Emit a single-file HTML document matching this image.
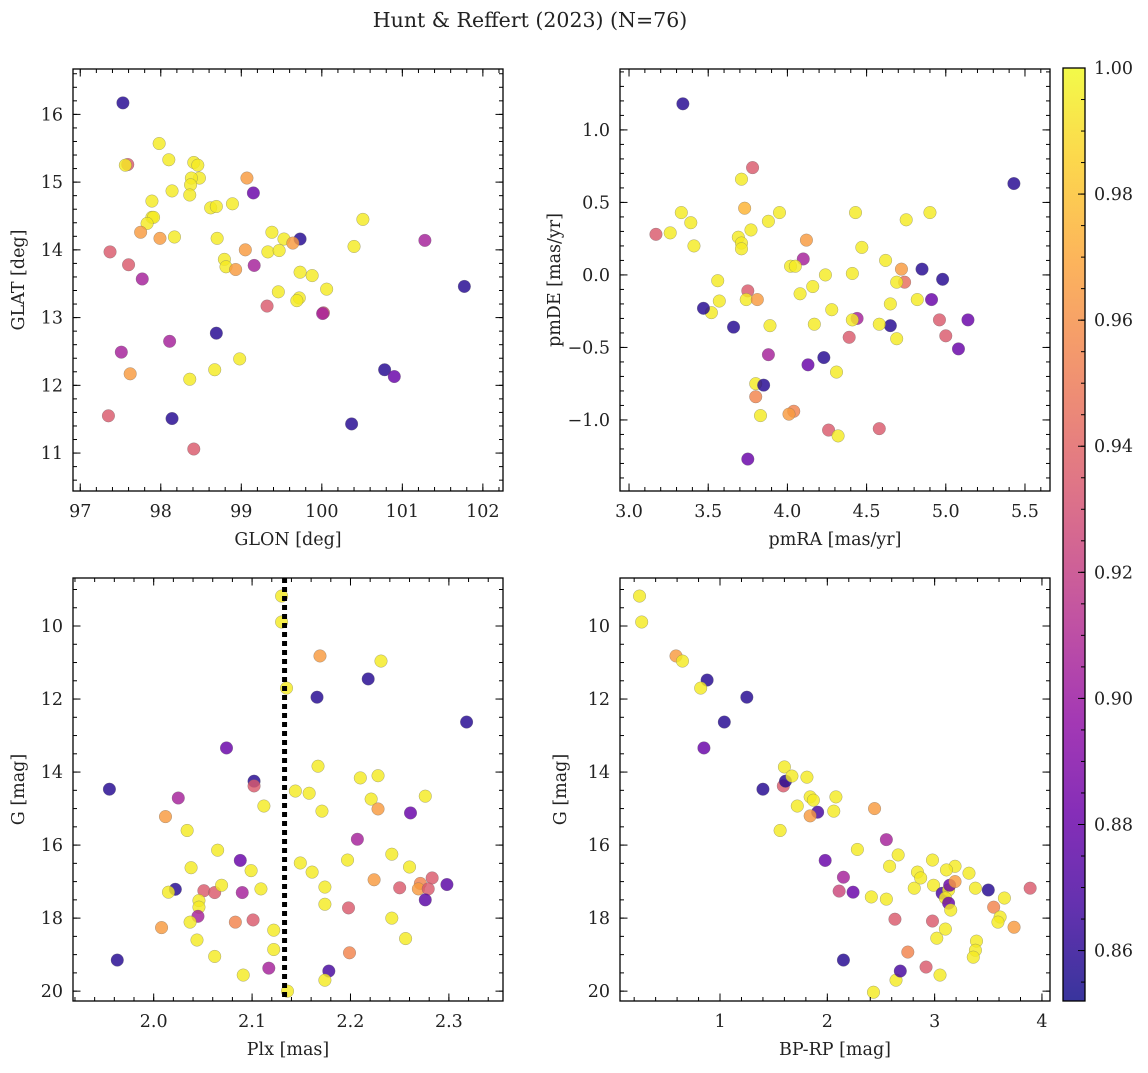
<!DOCTYPE html>
<html><head><meta charset="utf-8"><style>
html,body{margin:0;padding:0;background:#fff}
svg text{font-family:"DejaVu Serif","Liberation Serif",serif;fill:#222}
</style></head><body>
<svg id="fig" width="1148" height="1068" viewBox="0 0 1148 1068" xmlns="http://www.w3.org/2000/svg">
<text x="530" y="27" text-anchor="middle" font-size="20.5">Hunt &amp; Reffert (2023) (N=76)</text>
</svg>
<script>
// ---- data ----
const tlGlon=[97.53,97.98,97.59,97.56,98.10,98.41,98.46,98.48,98.38,98.37,98.36,98.14,97.89,97.89,97.91,97.83,97.75,97.99,98.17,98.62,98.69,98.89,99.07,99.15,98.70,99.38,99.53,99.73,99.64,99.33,99.47,99.05,97.37,97.60,97.77,98.79,98.81,98.93,99.16,99.73,99.88,100.06,99.46,99.72,99.69,99.32,100.02,100.01,100.40,100.51,101.28,101.77,98.69,98.11,97.51,97.62,98.67,98.98,98.36,100.78,100.90,97.35,98.14,100.37,98.41];
const tlGlat=[16.17,15.57,15.26,15.25,15.33,15.29,15.25,15.06,15.06,14.96,14.81,14.87,14.72,14.48,14.48,14.39,14.26,14.17,14.19,14.62,14.64,14.68,15.06,14.84,14.17,14.26,14.16,14.16,14.10,13.97,13.99,14.00,13.97,13.78,13.57,13.86,13.75,13.71,13.77,13.67,13.62,13.42,13.38,13.29,13.25,13.17,13.07,13.06,14.05,14.45,14.14,13.46,12.77,12.65,12.49,12.17,12.23,12.39,12.09,12.23,12.13,11.55,11.51,11.43,11.06];
const tlProb=[0.858,0.995,0.935,0.995,0.995,0.995,0.995,0.995,0.995,0.995,0.995,0.995,0.995,0.995,0.995,0.995,0.965,0.965,0.995,0.995,0.995,0.995,0.965,0.88,0.995,0.995,0.995,0.858,0.965,0.995,0.995,0.965,0.935,0.935,0.905,0.995,0.995,0.965,0.905,0.995,0.995,0.995,0.995,0.995,0.995,0.935,0.935,0.905,0.995,0.995,0.905,0.858,0.858,0.905,0.905,0.965,0.995,0.995,0.995,0.858,0.88,0.935,0.858,0.858,0.935];

const trPmra=[3.34,5.43,3.78,3.71,3.33,3.39,3.17,3.26,3.41,3.69,3.71,3.73,3.77,3.95,3.88,3.71,4.12,4.43,4.47,4.90,4.75,4.10,4.02,4.05,4.08,3.56,3.57,3.52,3.47,3.66,3.75,3.74,3.81,4.16,4.24,4.41,4.62,4.72,4.74,4.69,4.85,4.98,4.65,4.82,4.91,4.96,5.00,5.14,5.08,4.65,4.58,4.69,4.44,4.41,4.28,4.17,4.39,3.89,4.13,4.23,4.31,3.88,3.80,3.85,3.80,3.83,4.04,4.01,4.26,4.32,4.58,3.75];
const trPmde=[1.18,0.63,0.74,0.66,0.43,0.36,0.28,0.29,0.20,0.26,0.22,0.46,0.31,0.43,0.37,0.18,0.24,0.43,0.19,0.43,0.38,0.11,0.06,0.06,-0.13,-0.04,-0.18,-0.26,-0.23,-0.36,-0.11,-0.17,-0.17,-0.08,0.00,0.01,0.10,0.04,-0.05,-0.05,0.04,-0.03,-0.20,-0.17,-0.17,-0.31,-0.42,-0.31,-0.51,-0.35,-0.34,-0.44,-0.30,-0.31,-0.24,-0.34,-0.43,-0.35,-0.62,-0.57,-0.67,-0.55,-0.75,-0.76,-0.84,-0.97,-0.94,-0.96,-1.07,-1.11,-1.06,-1.27];
const trProb=[0.858,0.858,0.935,0.995,0.995,0.995,0.935,0.995,0.995,0.995,0.995,0.975,0.995,0.995,0.995,0.995,0.965,0.995,0.995,0.995,0.995,0.905,0.995,0.995,0.995,0.995,0.995,0.995,0.858,0.858,0.935,0.995,0.965,0.995,0.995,0.995,0.995,0.965,0.945,0.995,0.858,0.858,0.995,0.995,0.88,0.935,0.935,0.88,0.88,0.858,0.995,0.995,0.905,0.995,0.995,0.995,0.935,0.995,0.88,0.858,0.995,0.905,0.995,0.858,0.955,0.995,0.955,0.965,0.935,0.995,0.935,0.88];

const blPlx=[2.130,2.130,2.169,2.231,2.135,2.166,2.218,2.318,2.074,1.955,2.025,2.102,2.102,2.112,2.144,2.158,2.167,2.210,2.228,2.221,2.228,2.276,2.171,2.034,2.207,2.012,2.065,2.149,2.161,2.174,2.174,2.197,2.224,2.242,2.260,2.298,2.283,2.261,2.038,2.022,2.015,2.051,2.062,2.069,2.088,2.109,2.046,2.046,2.090,2.045,2.037,2.101,2.083,2.099,2.271,2.269,2.279,2.276,2.250,2.122,2.122,2.256,2.242,2.198,2.044,2.091,2.117,2.199,1.963,2.136,2.178,2.174,2.008,2.062];
const blG=[9.18,9.89,10.82,10.96,11.70,11.95,11.45,12.63,13.34,14.47,14.71,14.25,14.38,14.93,14.52,14.58,13.84,14.16,14.10,14.74,15.01,14.66,15.07,15.60,15.84,15.22,16.14,16.49,16.74,17.15,17.62,16.41,16.95,16.25,16.60,17.08,16.90,15.12,16.62,17.21,17.29,17.25,17.30,17.10,16.42,17.20,17.52,17.70,17.30,17.95,18.11,18.05,18.11,16.70,17.05,17.20,17.20,17.50,17.17,18.33,18.86,18.56,18.00,17.72,18.60,19.56,19.37,18.95,19.15,20.00,19.45,19.70,18.26,19.05];
const blProb=[0.995,0.995,0.965,0.995,0.995,0.858,0.858,0.858,0.88,0.858,0.905,0.858,0.935,0.995,0.995,0.995,0.995,0.995,0.995,0.995,0.965,0.995,0.995,0.995,0.905,0.965,0.995,0.995,0.995,0.995,0.995,0.995,0.965,0.995,0.995,0.875,0.935,0.88,0.995,0.858,0.995,0.935,0.935,0.995,0.88,0.995,0.995,0.995,0.905,0.905,0.995,0.935,0.955,0.995,0.955,0.965,0.935,0.875,0.935,0.995,0.995,0.995,0.995,0.935,0.995,0.995,0.905,0.955,0.858,0.995,0.868,0.995,0.965,0.995];

const brBprp=[0.25,0.27,0.59,0.65,0.88,0.82,1.25,1.04,0.85,1.40,1.59,1.61,1.60,1.67,1.81,1.72,1.84,1.87,1.91,1.84,2.06,2.08,2.44,1.56,2.55,1.98,2.28,2.58,2.66,2.15,2.11,2.24,2.41,2.55,2.63,2.81,2.84,2.98,2.87,2.99,3.07,3.13,3.19,3.11,3.32,3.38,3.50,3.14,3.19,2.98,3.02,3.10,3.10,3.13,3.15,3.55,3.65,3.61,3.59,3.89,3.74,3.39,3.38,3.36,2.75,2.43,2.64,3.05,2.92,2.68,2.15];
const brG=[9.18,9.89,10.82,10.96,11.48,11.70,11.95,12.63,13.34,14.47,14.38,14.25,13.86,14.11,14.14,14.93,14.68,14.77,15.10,15.20,15.07,14.68,15.00,15.60,15.85,16.42,16.12,16.58,16.27,16.88,17.26,17.29,17.42,17.48,18.03,17.18,16.74,16.41,16.90,17.10,17.32,17.23,16.58,16.68,16.77,17.18,17.23,17.10,17.00,18.08,18.55,18.30,17.45,17.59,17.78,17.70,17.45,17.97,18.11,17.18,18.25,18.63,18.88,19.07,18.93,20.03,19.70,19.56,19.34,19.45,19.15];
const brProb=[0.995,0.995,0.965,0.995,0.858,0.995,0.858,0.858,0.88,0.858,0.935,0.858,0.995,0.995,0.995,0.995,0.995,0.995,0.868,0.965,0.995,0.995,0.965,0.995,0.905,0.88,0.995,0.995,0.995,0.905,0.925,0.88,0.995,0.995,0.935,0.995,0.995,0.995,0.995,0.995,0.868,0.995,0.995,0.995,0.995,0.995,0.858,0.88,0.965,0.935,0.995,0.995,0.995,0.88,0.995,0.955,0.995,0.995,0.995,0.935,0.965,0.995,0.995,0.995,0.955,0.995,0.995,0.995,0.935,0.868,0.858];

const cbTicks=[0.86,0.88,0.90,0.92,0.94,0.96,0.98,1.00];
const vmin=0.852, vmax=1.0;

// ---- helpers ----
const NS="http://www.w3.org/2000/svg";
const svg=document.getElementById('fig');
const FS=17.5;
function mk(tag,attrs,parent){const e=document.createElementNS(NS,tag);for(const k in attrs)e.setAttribute(k,attrs[k]);(parent||svg).appendChild(e);return e;}
const stops=[[0,[13,8,135]],[0.1,[65,4,157]],[0.2,[106,0,168]],[0.3,[143,13,164]],[0.4,[177,42,144]],[0.5,[204,71,120]],[0.6,[225,100,98]],[0.7,[242,132,75]],[0.8,[252,166,54]],[0.9,[252,206,37]],[1,[240,249,33]]];
function plasma(t){t=Math.max(0,Math.min(1,t));for(let i=1;i<stops.length;i++){if(t<=stops[i][0]){const a=stops[i-1],b=stops[i];const f=(t-a[0])/(b[0]-a[0]);const c=a[1].map((v,j)=>Math.round(v+(b[1][j]-v)*f));return `rgb(${c[0]},${c[1]},${c[2]})`;}}return 'rgb(240,249,33)';}
function fmt(v,d){return (v<0?'\u2212':'')+Math.abs(v).toFixed(d);}

function panel(p){
  const g=mk('g',{});
  
  
  const sx=v=>p.x0+(v-p.xmin)/(p.xmax-p.xmin)*(p.x1-p.x0);
  const sy=p.yinv?(v=>p.y0+(v-p.ymin)/(p.ymax-p.ymin)*(p.y1-p.y0)):(v=>p.y1-(v-p.ymin)/(p.ymax-p.ymin)*(p.y1-p.y0));
  for(let i=0;i<p.xs.length;i++){
    const c=mk('circle',{cx:sx(p.xs[i]),cy:sy(p.ys[i]),r:6.3,fill:plasma((p.cs[i]-vmin)/(vmax-vmin)),'fill-opacity':0.82,stroke:'#666','stroke-width':0.4,'stroke-opacity':0.7},g);
    
    
  }
  if(p.extra)p.extra(g,sx,sy);
  const fr=mk('rect',{x:p.x0,y:p.y0,width:p.x1-p.x0,height:p.y1-p.y0,fill:'none',stroke:'#000','stroke-width':1.3},g);
  
  
  const eps=1e-9;
  function xt(step,len){const s=Math.ceil(p.xmin/step-eps);for(let k=s;k*step<=p.xmax+eps;k++){const X=sx(k*step);mk('line',{x1:X,x2:X,y1:p.y1,y2:p.y1-len,stroke:'#000','stroke-width':1},g);mk('line',{x1:X,x2:X,y1:p.y0,y2:p.y0+len,stroke:'#000','stroke-width':1},g);}}
  function yt(step,len){const s=Math.ceil(p.ymin/step-eps);for(let k=s;k*step<=p.ymax+eps;k++){const Y=sy(k*step);mk('line',{x1:p.x0,x2:p.x0+len,y1:Y,y2:Y,stroke:'#000','stroke-width':1},g);mk('line',{x1:p.x1,x2:p.x1-len,y1:Y,y2:Y,stroke:'#000','stroke-width':1},g);}}
  xt(p.xminor,4);yt(p.yminor,4);xt(p.xmajor,7.5);yt(p.ymajor,7.5);
  {const s=Math.ceil(p.xmin/p.xmajor-eps);for(let k=s;k*p.xmajor<=p.xmax+eps;k++){const v=k*p.xmajor;const t=mk('text',{x:sx(v),y:p.y1+26,'text-anchor':'middle','font-size':FS},g);t.textContent=fmt(v,p.xdec);}}
  {const s=Math.ceil(p.ymin/p.ymajor-eps);for(let k=s;k*p.ymajor<=p.ymax+eps;k++){const v=k*p.ymajor;const t=mk('text',{x:p.x0-10,y:sy(v)+6,'text-anchor':'end','font-size':FS},g);t.textContent=fmt(v,p.ydec);}}
  const xl=mk('text',{x:(p.x0+p.x1)/2,y:p.y1+54,'text-anchor':'middle','font-size':FS},g);xl.textContent=p.xlabel;
  
  
  const cy=(p.y0+p.y1)/2;const yl=mk('text',{x:p.ylx,y:cy,'text-anchor':'middle','font-size':FS,transform:`rotate(-90 ${p.ylx} ${cy})`},g);yl.textContent=p.ylabel;
  
  
}

panel({name:'glon-glat-panel',x0:73,x1:503,y0:69,y1:491,xmin:96.91,xmax:102.25,ymin:10.44,ymax:16.67,xmajor:1,xminor:0.2,ymajor:1,yminor:0.2,xdec:0,ydec:0,xs:tlGlon,ys:tlGlat,cs:tlProb,xlabel:'GLON [deg]',ylabel:'GLAT [deg]',ylx:24});
panel({name:'pmra-pmde-panel',x0:620,x1:1050,y0:69,y1:491,xmin:2.943,xmax:5.658,ymin:-1.49,ymax:1.42,xmajor:0.5,xminor:0.1,ymajor:0.5,yminor:0.1,xdec:1,ydec:1,xs:trPmra,ys:trPmde,cs:trProb,xlabel:'pmRA [mas/yr]',ylabel:'pmDE [mas/yr]',ylx:560});
panel({name:'plx-g-panel',x0:73,x1:503,y0:578,y1:1001,xmin:1.918,xmax:2.355,ymin:8.685,ymax:20.27,yinv:true,xmajor:0.1,xminor:0.02,ymajor:2,yminor:0.5,xdec:1,ydec:0,xs:blPlx,ys:blG,cs:blProb,xlabel:'Plx [mas]',ylabel:'G [mag]',ylx:24,
  extra:(g,sx,sy)=>{const l=mk('line',{x1:sx(2.133),x2:sx(2.133),y1:578,y2:1001,stroke:'#000','stroke-width':5,'stroke-dasharray':'5 4'},g);}});
panel({name:'cmd-panel',x0:620,x1:1050,y0:578,y1:1001,xmin:0.068,xmax:4.075,ymin:8.685,ymax:20.27,yinv:true,xmajor:1,xminor:0.2,ymajor:2,yminor:0.5,xdec:0,ydec:0,xs:brBprp,ys:brG,cs:brProb,xlabel:'BP-RP [mag]',ylabel:'G [mag]',ylx:566});

// colorbar
const cb=mk('g',{});


const defs=mk('defs',{},cb);
const lg=mk('linearGradient',{id:'cbg',x1:0,y1:1,x2:0,y2:0},defs);
for(let i=0;i<=20;i++){mk('stop',{offset:i/20,'stop-color':plasma(i/20)},lg);}
const cbY0=68,cbY1=1001,cbX0=1063,cbX1=1085;
mk('rect',{x:cbX0,y:cbY0,width:cbX1-cbX0,height:cbY1-cbY0,fill:'url(#cbg)','fill-opacity':0.82},cb);
mk('rect',{x:cbX0,y:cbY0,width:cbX1-cbX0,height:cbY1-cbY0,fill:'none',stroke:'#000','stroke-width':1.3},cb);
const cbs=v=>cbY1-(v-vmin)/(vmax-vmin)*(cbY1-cbY0);
for(let k=171;k<=200;k++){const v=k*0.005;if(v<vmin)continue;const Y=cbs(v);mk('line',{x1:cbX1,x2:cbX1-4,y1:Y,y2:Y,stroke:'#000','stroke-width':1},cb);}
cbTicks.forEach(v=>{const Y=cbs(v);mk('line',{x1:cbX1,x2:cbX1-7,y1:Y,y2:Y,stroke:'#000','stroke-width':1},cb);const t=mk('text',{x:1094,y:Y+6,'font-size':FS},cb);t.textContent=v.toFixed(2);});
</script>
</body></html>
